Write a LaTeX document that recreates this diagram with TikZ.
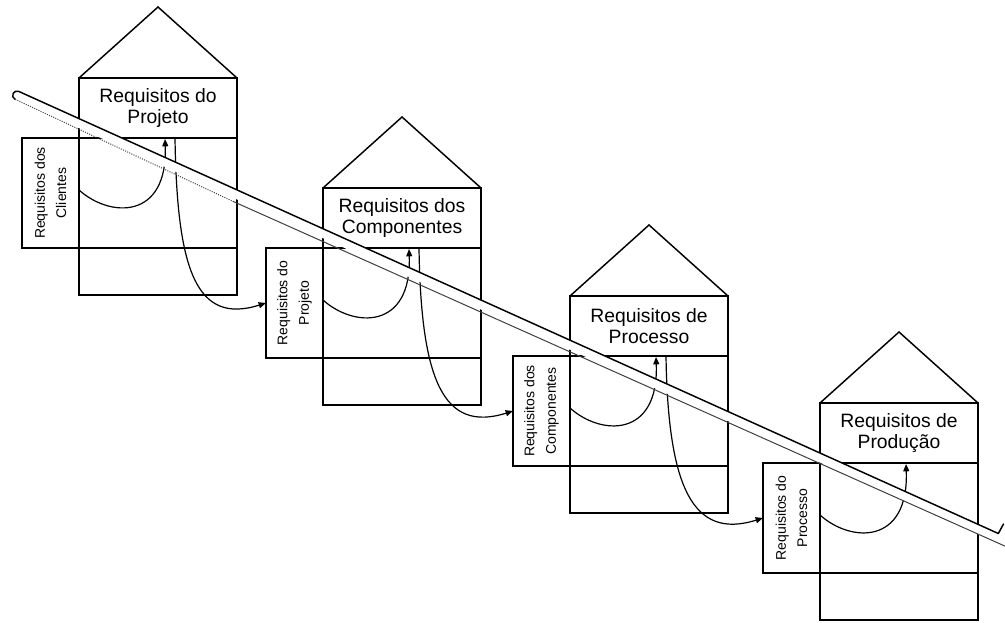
\documentclass[tikz,border=0pt]{standalone}
\usepackage{fontspec}
\setmainfont{Liberation Sans}
\usetikzlibrary{arrows.meta,calc}

\tikzset{
  wall/.style={draw=black, line width=1.1pt},
  cell/.style={wall, minimum width=118.5pt, inner sep=0pt, outer sep=0pt,
    align=center, font=\fontsize{14.5}{15.5}\selectfont},
  sidebox/.style={wall, minimum width=42.75pt, minimum height=82.5pt,
    inner sep=0pt, outer sep=0pt},
  sidetext/.style={rotate=90, align=center, inner sep=0pt,
    font=\fontsize{10.5}{16}\selectfont},
  flow/.style={draw=black, line width=0.9pt,
    -{Triangle[length=5.5pt,width=4.5pt]}},
  bandedge/.style={draw=black, line width=1.1pt},
  bandfaint/.style={draw=black!75, line width=0.75pt},
}

% One house of quality: roof, ceiling row, matrix, base row, side list
% #1 name, #2 left x, #3 top y of the walls, #4 ceiling text, #5 side text
\newcommand{\drawHouse}[5]{%
  \node[cell, minimum height=45pt, anchor=north west] (#1-top) at (#2,#3) {#4};
  \node[cell, minimum height=82.5pt, anchor=north] (#1-mid) at (#1-top.south) {};
  \node[cell, minimum height=35.25pt, anchor=north] (#1-base) at (#1-mid.south) {};
  \node[sidebox, anchor=north east] (#1-side) at (#1-mid.north west) {};
  \node[sidetext] (#1-sidelabel) at (#1-side.center) {#5};
  \coordinate (#1-apex) at (#2+79,#3-71);
  \draw[wall] (#1-top.north west) -- (#1-apex) -- (#1-top.north east);
  \draw[flow] ([yshift=2.25pt]#1-mid.west)
    .. controls +(31,28) and +(3,81) .. ([xshift=5.25pt,yshift=-0.75pt]#1-top.south);
}

\begin{document}
\begin{tikzpicture}[x=0.75pt,y=-0.75pt]
  \fill[white] (0,0) rectangle (1005,623);
  \useasboundingbox (0,0) rectangle (1005,623);

  \drawHouse{h1}{79}{78}{Requisitos do\\Projeto}{Requisitos dos\\Clientes}
  \drawHouse{h2}{323}{188}{Requisitos dos\\Componentes}{Requisitos do\\Projeto}
  \drawHouse{h3}{570}{296}{Requisitos de\\Processo}{Requisitos dos\\Componentes}
  \drawHouse{h4}{820}{403}{Requisitos de\\Produção}{Requisitos do\\Processo}

  % links from each ceiling to the side list of the next house
  \draw[flow] ([xshift=12.75pt]h1-top.south)
    .. controls +(2,132) and +(-70,22) .. (h2-side.west);
  \draw[flow] ([xshift=12.75pt]h2-top.south)
    .. controls +(2,132) and +(-70,22) .. (h3-side.west);
  \draw[flow] ([xshift=12.75pt]h3-top.south)
    .. controls +(2,132) and +(-70,22) .. (h4-side.west);

  % diagonal double band running across all houses
  \coordinate (bandA) at (17,95.4);
  \coordinate (bandB) at (1012,544.5);
  \coordinate (bandL) at ($(bandA)+(-1.78,3.97)$);
  \coordinate (bandM) at ($(bandL)!0.22!(bandB)+(-1.78,3.97)$);
  \draw[white, line width=6.5pt, line cap=round] (bandA) -- (bandB);
  \draw[bandedge, line cap=round, line join=round]
    (bandL) arc[start angle=245.8, end angle=65.8, radius=3.26pt]
    -- (998.3,533.5) -- (1003.5,524);
  \draw[bandfaint, densely dotted] (bandL) -- (bandM);
  \draw[bandfaint] (bandM) -- ($(bandB)+(-1.78,3.97)$);
\end{tikzpicture}
\end{document}
